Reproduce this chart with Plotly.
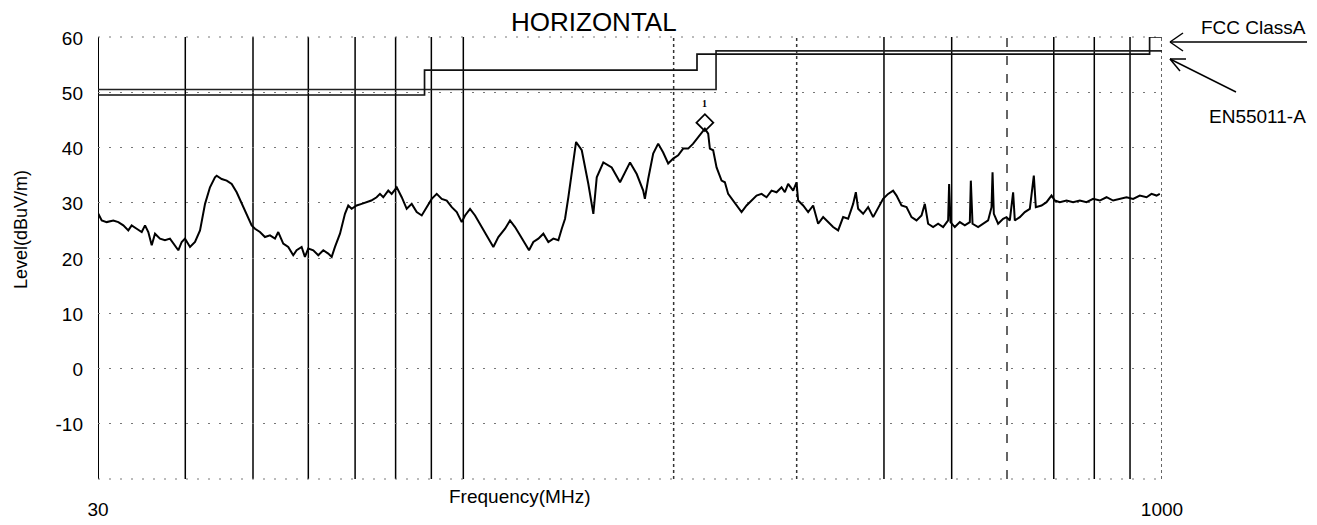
import plotly.graph_objects as go

# ---- data ----
freq_mhz = [30.03, 30.37, 30.87, 31.55, 32.08, 32.61, 33.15, 33.52, 34.08, 34.65, 35.03, 35.41, 35.81, 36.20,
            36.80, 37.41, 38.03, 38.67, 39.09, 39.53, 39.96, 40.63, 41.30, 41.99, 42.69, 43.39, 44.11, 44.36,
            45.10, 45.85, 46.61, 47.38, 48.17, 48.97, 49.78, 50.33, 51.16, 52.01, 52.88, 53.76, 54.34, 55.24,
            56.16, 57.09, 57.73, 58.69, 59.33, 59.99, 60.99, 62.00, 63.03, 64.07, 64.80, 65.51, 66.60, 67.70,
            68.44, 69.21, 70.36, 71.53, 72.72, 73.83, 75.15, 75.98, 76.81, 78.08, 78.97, 80.30, 81.63, 82.98,
            84.36, 85.76, 87.19, 88.64, 90.11, 91.61, 93.13, 94.68, 96.26, 97.86, 99.48, 100.57, 102.24, 103.94,
            105.67, 107.42, 109.21, 110.40, 112.24, 114.74, 116.64, 118.58, 120.55, 122.55, 124.18, 125.96,
            128.05, 130.18, 132.34, 134.54, 136.78, 138.32, 139.83, 141.36, 142.95, 144.52, 145.0, 147.74,
            150.99, 153.50, 155.23, 158.63, 163.08, 167.61, 173.22, 177.09, 180.90, 181.91, 183.90, 186.96,
            190.06, 193.22, 196.43, 199.69, 203.01, 206.38, 209.81, 213.29, 216.84, 219.28, 221.68, 224.11,
            225.36, 227.82, 230.39, 234.21, 236.78, 239.36, 243.34, 246.08, 250.17, 254.32, 258.55, 262.84,
            267.21, 271.65, 276.16, 280.75, 285.41, 288.53, 291.69, 296.53, 299.87, 301.45, 306.46, 311.55,
            316.73, 321.99, 327.34, 332.78, 338.31, 343.93, 349.64, 355.45, 361.36, 364.59, 367.36, 373.46,
            379.67, 385.98, 392.39, 398.88, 405.51, 412.24, 416.89, 423.81, 430.86, 438.02, 445.29, 452.69,
            457.64, 462.65, 470.33, 478.15, 486.09, 494.17, 495.80, 498.10, 505.21, 513.61, 522.14, 530.82,
            532.57, 535.57, 545.55, 554.61, 563.83, 570.18, 572.07, 574.52, 582.70, 592.38, 599.05, 605.61,
            612.23, 615.66, 625.89, 636.29, 646.86, 655.44, 659.78, 672.29, 683.46, 694.81, 702.41, 714.08,
            730.02, 746.08, 762.74, 779.77, 796.92, 814.71, 832.90, 851.21, 870.22, 889.65, 909.21, 929.51,
            950.26, 966.05, 982.10, 992.83]
level_dbuv = [28.0, 26.8, 26.5, 26.8, 26.5, 25.9, 25.0, 25.9, 25.3, 24.7, 25.9, 24.7, 22.3, 24.4,
              23.5, 23.2, 23.5, 22.3, 21.4, 22.9, 23.5, 22.0, 22.9, 25.0, 29.8, 32.8, 34.6, 34.9,
              34.3, 34.0, 33.4, 31.9, 29.8, 27.7, 25.9, 25.3, 24.7, 23.8, 24.1, 23.5, 24.7, 22.6,
              22.0, 20.5, 21.4, 22.0, 20.2, 21.7, 21.4, 20.5, 21.4, 20.8, 20.2, 22.0, 24.4, 28.0,
              29.5, 28.9, 29.5, 29.8, 30.1, 30.4, 31.0, 31.6, 31.0, 32.2, 31.6, 32.8, 31.0, 28.9,
              29.8, 28.3, 27.7, 29.2, 30.7, 31.6, 30.7, 30.4, 29.2, 28.3, 26.5, 27.7, 28.9, 27.7,
              26.2, 24.7, 23.2, 22.0, 23.8, 25.3, 26.8, 25.6, 24.1, 22.6, 21.4, 22.9,
              23.5, 24.4, 22.9, 23.5, 23.2, 25.3, 27.1, 31.0, 35.8, 39.5, 41.0, 39.5,
              33.4, 28.0, 34.6, 37.3, 36.4, 33.7, 37.3, 35.2, 32.2, 30.7, 34.3, 38.9,
              40.7, 39.1, 37.1, 38.0, 38.6, 39.8, 39.8, 40.7, 41.9, 42.8, 43.4, 42.5,
              39.8, 39.5, 36.4, 34.0, 33.7, 31.6, 30.4, 29.5, 28.3, 29.5, 30.4, 31.3,
              31.6, 31.0, 32.2, 31.9, 32.8, 31.9, 33.4, 32.2, 33.7, 30.4, 29.5, 28.3,
              29.5, 26.2, 27.4, 26.5, 25.6, 25.0, 27.4, 27.1, 29.8, 31.9, 28.9, 28.0,
              29.2, 27.4, 29.2, 30.7, 31.6, 32.2, 31.3, 29.5, 29.2, 27.4, 26.8, 27.7,
              29.8, 26.2, 25.6, 26.2, 25.6, 26.8, 33.4, 26.5, 25.6, 26.5, 25.9, 26.5,
              34.0, 26.2, 25.6, 26.2, 26.8, 29.2, 35.5, 28.0, 26.2, 27.1, 27.4, 26.8,
              31.9, 26.8, 27.4, 28.3, 28.9, 34.9, 29.2, 29.5, 30.1, 31.3, 30.4, 30.1,
              30.4, 30.1, 30.4, 30.1, 30.7, 30.4, 31.0, 30.4, 30.7, 31.0, 30.7, 31.3,
              31.0, 31.6, 31.3, 31.6]

fcc_freq = [30, 88, 88, 216, 216, 960, 960, 1000]
fcc_level = [49.5, 49.5, 54.0, 54.0, 56.9, 56.9, 60.0, 60.0]
en_freq = [30, 230, 230, 1000]
en_level = [50.5, 50.5, 57.5, 57.5]

peak_freq = [221.7]
peak_level = [44.5]
peak_label = ["1"]

grid_freqs = [30, 40, 50, 60, 70, 80, 90, 100, 200, 300, 400, 500, 600, 700, 800, 900, 1000]
grid_dash = ["solid", "solid", "solid", "solid", "solid", "solid", "solid", "solid", "dot", "dot",
             "solid", "solid", "dash", "solid", "solid", "solid", "dot"]
x_tick_vals = [30, 1000]
x_tick_text = ["30", "1000"]
y_tick_vals = [-10, 0, 10, 20, 30, 40, 50, 60]
y_tick_text = ["-10", "0", "10", "20", "30", "40", "50", "60"]

FONT = "Arial, Liberation Sans, sans-serif"

# page offset (default body margin) and plot area geometry in page pixels
OFF = 8
W, H = 1317 - OFF, 525 - OFF
PL, PR, PT, PB = 98, 1162, 37, 479
PW, PH = PR - PL, PB - PT


def px(x):
    return (x - PL) / PW


def py(y):
    return (PB - y) / PH


fig = go.Figure()

fig.add_trace(go.Scatter(x=en_freq, y=en_level, mode="lines",
                         line=dict(color="#222", width=1.7), hoverinfo="skip", name="EN55011-A"))
fig.add_trace(go.Scatter(x=fcc_freq, y=fcc_level, mode="lines",
                         line=dict(color="#111", width=1.7), hoverinfo="skip", name="FCC ClassA"))
fig.add_trace(go.Scatter(x=freq_mhz, y=level_dbuv, mode="lines",
                         line=dict(color="black", width=2.0), name="Level"))
fig.add_trace(go.Scatter(x=peak_freq, y=peak_level, mode="markers",
                         marker=dict(symbol="diamond-open", size=13, color="black",
                                     line=dict(width=1.8, color="black")),
                         name="peak"))

shapes = []
for f, d in zip(grid_freqs, grid_dash):
    shapes.append(dict(type="line", xref="x", yref="paper", x0=f, x1=f, y0=0, y1=1,
                       layer="below",
                       line=dict(color="black" if d == "solid" else "#333",
                                 width=2 if f == 30 else 1.5, dash=d)))
for yv in (0, 1):
    shapes.append(dict(type="line", xref="paper", yref="paper", x0=0, x1=1, y0=yv, y1=yv,
                       layer="below", line=dict(color="#777", width=1, dash="2px,9px")))


def arrow(x0, y0, x1, y1, hx1, hy1, hx2, hy2):
    out = []
    for a, b, c, d in [(x0, y0, x1, y1), (x1, y1, hx1, hy1), (x1, y1, hx2, hy2)]:
        out.append(dict(type="line", xref="paper", yref="paper",
                        x0=px(a), y0=py(b), x1=px(c), y1=py(d),
                        line=dict(color="black", width=1.5)))
    return out


shapes += arrow(1307, 42, 1170, 42, 1183, 33, 1183, 51)
shapes += arrow(1236, 92, 1170, 59, 1186, 59, 1180, 71)


def label(text, x, y, size, angle=0, family=FONT):
    return dict(text=text, x=px(x), y=py(y), xref="paper", yref="paper", showarrow=False,
                xanchor="center", yanchor="middle", textangle=angle,
                font=dict(family=family, size=size, color="black"))


annotations = [
    label("HORIZONTAL", 594, 22, 26),
    label("Level(dBuV/m)", 21, 230, 18, angle=-90),
    label("Frequency(MHz)", 519, 496, 19),
    label("FCC ClassA", 1253, 27, 19),
    label("EN55011-A", 1257, 116, 19),
    label("<b>" + peak_label[0] + "</b>", 704, 103, 10, family="Liberation Serif, serif"),
]

fig.update_layout(
    width=W, height=H,
    margin=dict(l=PL - OFF, r=W - (PR - OFF), t=PT - OFF, b=H - (PB - OFF), pad=0, autoexpand=False),
    paper_bgcolor="white", plot_bgcolor="white",
    showlegend=False,
    shapes=shapes,
    annotations=annotations,
    xaxis=dict(type="log", range=[1.4771213, 3.0], tickvals=x_tick_vals, ticktext=x_tick_text,
               showgrid=False, zeroline=False, showline=False, automargin=False,
               ticks="", ticklabelstandoff=17,
               tickfont=dict(family=FONT, size=19, color="black")),
    yaxis=dict(range=[-20, 60], tickvals=y_tick_vals, ticktext=y_tick_text,
               showgrid=True, gridcolor="#777", gridwidth=1,
               griddash="2px,9px", zeroline=False, showline=False, automargin=False,
               ticks="", ticklabelstandoff=14, ticklabelshift=1,
               tickfont=dict(family=FONT, size=19, color="black")),
)

fig.write_html("out.html")
